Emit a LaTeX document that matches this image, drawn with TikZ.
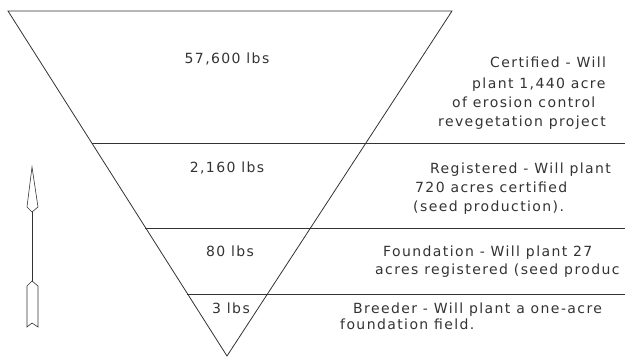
\documentclass[tikz,border=0pt]{standalone}
\usepackage{fontspec}
\setmainfont{DejaVu Sans}[LetterSpace=10]
\tikzset{
  seedline/.style={line width=0.8pt,black!80},
  lbs/.style={font=\fontsize{14}{17}\selectfont,text=black!80,inner sep=0pt,anchor=base},
  note/.style={font=\fontsize{14}{17}\selectfont,text=black!80,inner sep=0pt,anchor=base west}
}
\begin{document}
\begin{tikzpicture}[x=1pt,y=-1pt]
\useasboundingbox (0,0) rectangle (625,357);
% inverted triangle and the class lines
\draw[seedline] (8,11) -- (452,11) -- (227,356) -- cycle;
\draw[seedline] (92,143) -- (625,143);
\draw[seedline] (145,228) -- (625,228);
\draw[seedline] (187,294) -- (625,294);
% amounts
\node[lbs] (certlbs) at (227,63) {57,600 lbs};
\node[lbs] (reglbs) at (227,172) {2,160 lbs};
\node[lbs] (foundlbs) at (230,256) {80 lbs};
\node[lbs] (breedlbs) at (231,313) {3 lbs};
% class notes
\node[note] (cert1) at (490,67) {Certified - Will};
\node[note] (cert2) at (472,88) {plant 1,440 acre};
\node[note] (cert3) at (452,107) {of erosion control};
\node[note] (cert4) at (438,126) {revegetation project};
\node[note] (reg1) at (430,173) {Registered - Will plant};
\node[note] (reg2) at (415,192) {720 acres certified};
\node[note] (reg3) at (413,211) {(seed production).};
\node[note] (found1) at (383,256) {Foundation - Will plant 27};
\node[note] (found2) at (375,274) {acres registered (seed produc};
\node[note] (breed1) at (353,313) {Breeder - Will plant a one-acre};
\node[note] (breed2) at (340,329) {foundation field.};
% arrow on the left
\draw[seedline,line width=0.6pt] (32,167) -- (27,207) -- (32,212) -- (38,207) -- cycle;
\draw[seedline,line width=0.6pt] (32,212) -- (32,281);
\draw[seedline,line width=0.6pt] (32,281) -- (27,286) -- (27,327) -- (32,323) -- (38,327) -- (38,286) -- cycle;
\end{tikzpicture}
\end{document}
